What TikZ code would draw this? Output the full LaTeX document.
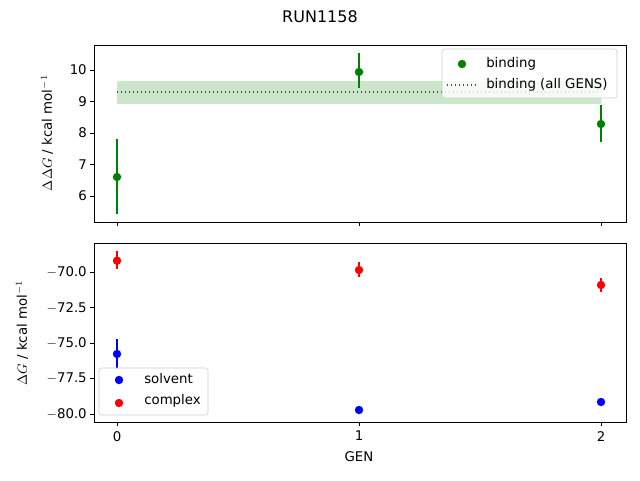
\documentclass[tikz,border=0pt]{standalone}
\usepackage{fontspec}
\setmainfont{DejaVu Sans}
\definecolor{mgreen}{RGB}{0,128,0}
\begin{document}
\begin{tikzpicture}[x=0.75pt,y=-0.75pt,
  ax/.style={draw=black,line width=0.6pt},
  tk/.style={line width=0.6pt},
  lbl/.style={font=\fontsize{10}{12}\selectfont,inner sep=0},
  dot/.style={circle,fill=#1,inner sep=0,minimum size=6.3pt},
  eb/.style={draw=#1,line width=1.1pt}]
\useasboundingbox (0,0) rectangle (640,480);
\node[font=\fontsize{12}{14}\selectfont] (title) at (320,17) {RUN1158};
% top axes
\fill[mgreen,opacity=0.2] (117,81) rectangle (601,104);
\draw[mgreen,dotted,line width=1pt] (117,92) -- (601,92);
\draw[eb=mgreen] (117,139) -- (117,214);
\draw[eb=mgreen] (359,53) -- (359,88);
\draw[eb=mgreen] (601,105) -- (601,142);
\node[dot=mgreen] (b0) at (117,177) {};
\node[dot=mgreen] (b1) at (359,72) {};
\node[dot=mgreen] (b2) at (601,124) {};
\draw[ax] (94,45) rectangle (626,222);
\foreach \v/\y in {10/70,9/101.5,8/133,7/164.5,6/196}{
  \draw[tk] (94,\y) -- (90,\y);
  \node[lbl,anchor=east] at (87,\y) {\v};}
\foreach \x in {117,359,601}{\draw[tk] (\x,222) -- (\x,226);}
\node[lbl,rotate=90] (yl1) at (47,133) {$\Delta\Delta G$ / kcal mol$^{-1}$};
% top legend
\draw[fill=white,fill opacity=0.8,draw=black!20,rounded corners=2pt] (442,49) rectangle (617,98);
\node[dot=mgreen] (lg1) at (462,64) {};
\node[lbl,anchor=west] at (486,64) {binding};
\draw[mgreen,dotted,line width=1pt] (447,85) -- (477,85);
\node[lbl,anchor=west] at (486,85) {binding (all GENS)};
% bottom axes
\draw[eb=red] (117,251) -- (117,269);
\draw[eb=red] (359,262) -- (359,277);
\draw[eb=red] (601,278) -- (601,292);
\draw[eb=blue] (117,339) -- (117,369);
\node[dot=red] (c0) at (117,260.7) {};
\node[dot=red] (c1) at (359,270) {};
\node[dot=red] (c2) at (601,285) {};
\node[dot=blue] (s0) at (117,354) {};
\node[dot=blue] (s1) at (359,410) {};
\node[dot=blue] (s2) at (601,402) {};
\draw[ax] (94,243) rectangle (626,422);
\foreach \v/\y in {70.0/272,72.5/307.7,75.0/343.2,77.5/378.6,80.0/414}{
  \draw[tk] (94,\y) -- (90,\y);
  \node[lbl,anchor=east] at (87,\y) {$-$\v};}
\foreach \x/\g in {117/0,359/1,601/2}{
  \draw[tk] (\x,422) -- (\x,426);
  \node[lbl,anchor=north] at (\x,431) {\g};}
\node[lbl,rotate=90] (yl2) at (22,333) {$\Delta G$ / kcal mol$^{-1}$};
\node[lbl] (xl) at (359,457) {GEN};
% bottom legend
\draw[fill=white,fill opacity=0.8,draw=black!20,rounded corners=2pt] (99,368) rectangle (208,415);
\node[dot=blue] (lg2) at (119,380) {};
\node[lbl,anchor=west] at (144,379) {solvent};
\node[dot=red] (lg3) at (119,403) {};
\node[lbl,anchor=west] at (144,401) {complex};
\end{tikzpicture}
\end{document}
